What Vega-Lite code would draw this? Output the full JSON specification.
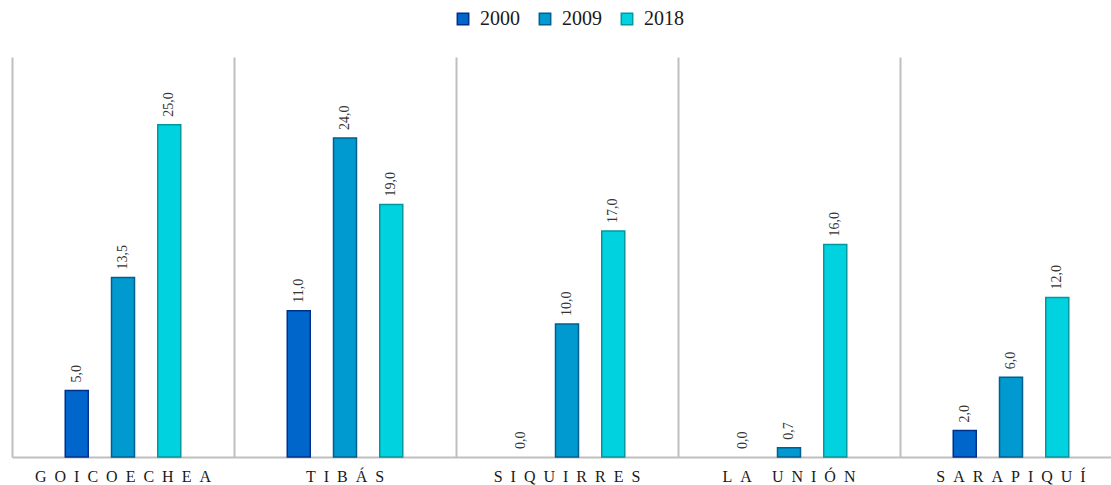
{
  "$schema": "https://vega.github.io/schema/vega-lite/v6.json",
  "autosize": {"type": "none"},
  "width": 1099,
  "height": 400,
  "padding": {"left": 12, "top": 57, "right": 0, "bottom": 28},
  "background": "white",
  "config": {
    "font": "Liberation Serif",
    "view": {"stroke": null},
    "locale": {"number": {"decimal": ",", "thousands": ".", "grouping": [3], "currency": ["", ""]}}
  },
  "data": {
    "values": [
      {"municipio": "GOICOECHEA", "anio": "2000", "valor": 5.0},
      {"municipio": "GOICOECHEA", "anio": "2009", "valor": 13.5},
      {"municipio": "GOICOECHEA", "anio": "2018", "valor": 25.0},
      {"municipio": "TIBÁS", "anio": "2000", "valor": 11.0},
      {"municipio": "TIBÁS", "anio": "2009", "valor": 24.0},
      {"municipio": "TIBÁS", "anio": "2018", "valor": 19.0},
      {"municipio": "SIQUIRRES", "anio": "2000", "valor": 0.0},
      {"municipio": "SIQUIRRES", "anio": "2009", "valor": 10.0},
      {"municipio": "SIQUIRRES", "anio": "2018", "valor": 17.0},
      {"municipio": "LA UNIÓN", "anio": "2000", "valor": 0.0},
      {"municipio": "LA UNIÓN", "anio": "2009", "valor": 0.7},
      {"municipio": "LA UNIÓN", "anio": "2018", "valor": 16.0},
      {"municipio": "SARAPIQUÍ", "anio": "2000", "valor": 2.0},
      {"municipio": "SARAPIQUÍ", "anio": "2009", "valor": 6.0},
      {"municipio": "SARAPIQUÍ", "anio": "2018", "valor": 12.0}
    ]
  },
  "encoding": {
    "x": {
      "field": "municipio", "type": "nominal", "sort": null,
      "scale": {"range": [0, 1110], "paddingInner": 0, "paddingOuter": 0},
      "axis": {
        "title": null, "labelAngle": 0, "labelFontSize": 16, "labelColor": "#1a1a1a",
        "labelExpr": "join(split(datum.label, ''), '\u2002')",
        "labelPadding": 11, "ticks": false, "domainColor": "#bfbfbf", "domainWidth": 2,
        "grid": true, "gridColor": "#bfbfbf", "gridWidth": 2, "bandPosition": 0
      }
    },
    "xOffset": {
      "field": "anio", "type": "nominal",
      "scale": {"domain": ["2000", "2009", "2018"], "paddingInner": 0, "paddingOuter": 0.9}
    },
    "y": {
      "field": "valor", "type": "quantitative",
      "scale": {"domain": [0, 30.1], "nice": false},
      "axis": null
    }
  },
  "layer": [
    {
      "transform": [{"filter": "datum.valor > 0"}],
      "mark": {"type": "bar", "strokeWidth": 1.5, "width": 23},
      "encoding": {
        "color": {
          "field": "anio", "type": "nominal",
          "scale": {"domain": ["2000", "2009", "2018"], "range": ["#0066cc", "#0099d0", "#00d3df"]},
          "legend": {
            "title": null, "orient": "none", "direction": "horizontal",
            "legendX": 441, "legendY": -48,
            "symbolType": "square", "symbolSize": 130, "symbolStrokeWidth": 1.5,
            "labelFontSize": 20, "labelColor": "#1a1a1a", "columnPadding": 15,
            "labelOffset": 7
          }
        },
        "stroke": {
          "field": "anio", "type": "nominal",
          "scale": {"domain": ["2000", "2009", "2018"], "range": ["#00308a", "#005f8f", "#00979f"]},
          "legend": null
        }
      }
    },
    {
      "mark": {"type": "text", "angle": 270, "align": "left", "baseline": "middle", "dx": 8, "fontSize": 14, "color": "#333333"},
      "encoding": {
        "text": {"field": "valor", "type": "quantitative", "format": ".1f"}
      }
    }
  ]
}
